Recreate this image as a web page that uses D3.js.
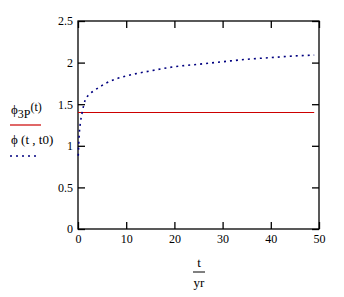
<!DOCTYPE html>
<html><head><meta charset="utf-8">
<script src="https://cdn.jsdelivr.net/npm/d3@7"></script>
<style>body{margin:0;background:#fff}svg{display:block}svg text{font-family:"Liberation Serif","Times New Roman","DejaVu Serif",serif !important}</style>
</head><body>
<script>
const xTicks = [0,10,20,30,40,50];
const yTicks = [0,0.5,1,1.5,2,2.5];
const yTickLabels = ["0","0.5","1","1.5","2","2.5"];
const tVals   = [0.05,0.27,0.5,0.83,1.5,2.2,3.25,4.3,5.7,7.7,10,15,20,25,30,35,40,45,49];
const phiVals = [0.88,1.15,1.28,1.39,1.55,1.61,1.66,1.70,1.75,1.80,1.84,1.90,1.95,1.98,2.01,2.04,2.06,2.08,2.09];
const phi3P = 1.4;
const tRange = [0,49];

const W=344,H=297;
const m={l:78,r:319,t:21,b:229};
const FF='"Liberation Serif","Times New Roman","DejaVu Serif",serif';
const svg=d3.select("body").append("svg").attr("width",W).attr("height",H).attr("font-family",FF);
const x=d3.scaleLinear().domain([0,50]).range([m.l,m.r]);
const y=d3.scaleLinear().domain([0,2.5]).range([m.b,m.t]);

svg.append("rect").attr("x",m.l).attr("y",m.t).attr("width",m.r-m.l).attr("height",m.b-m.t)
  .attr("fill","none").attr("stroke","#000").attr("stroke-width",1.3);

const tl=7;
const ax=[
  [d3.axisBottom(x).tickValues(xTicks).tickSize(-tl).tickFormat(d3.format("d")), `translate(0,${m.b})`, true],
  [d3.axisTop(x).tickValues(xTicks).tickSize(-tl).tickFormat(""), `translate(0,${m.t})`, false],
  [d3.axisLeft(y).tickValues(yTicks).tickSize(-tl).tickFormat((d,i)=>yTickLabels[i]), `translate(${m.l},0)`, true],
  [d3.axisRight(y).tickValues(yTicks).tickSize(-tl).tickFormat(""), `translate(${m.r},0)`, false]
];
ax.forEach(([a,tr,lab])=>{
  const g=svg.append("g").attr("transform",tr).call(a.tickPadding(lab?5:0));
  g.attr("font-family",FF).attr("font-size",12);
  g.select(".domain").remove();
  g.selectAll("line").attr("stroke","#000").attr("stroke-width",1.3);
  g.selectAll("text").attr("fill","#000");
});

svg.append("line").attr("x1",x(tRange[0])).attr("x2",x(tRange[1])).attr("y1",y(phi3P)).attr("y2",y(phi3P))
  .attr("stroke","#cc0000").attr("stroke-width",1.2);

const data=tVals.map((t,i)=>[t,phiVals[i]]);
svg.append("path").datum(data)
  .attr("d",d3.line().x(d=>x(d[0])).y(d=>y(d[1])).curve(d3.curveMonotoneX))
  .attr("fill","none").attr("stroke","#000080").attr("stroke-width",1.6).attr("stroke-dasharray","2,4");

const l1=svg.append("text").attr("x",11).attr("y",114).attr("font-size",13).attr("fill","#000");
l1.append("tspan").text("ϕ");
l1.append("tspan").attr("dy",4).attr("font-size",12).text("3P");
l1.append("tspan").attr("dy",-7).attr("font-size",12).text("(t)");
svg.append("line").attr("x1",10).attr("x2",41).attr("y1",125).attr("y2",125).attr("stroke","#cc0000").attr("stroke-width",1.2);
svg.append("text").attr("x",11).attr("y",144).attr("font-size",13).attr("fill","#000").text("ϕ (t , t0)");
svg.append("line").attr("x1",10).attr("x2",36).attr("y1",156).attr("y2",156).attr("stroke","#000080").attr("stroke-width",1.6).attr("stroke-dasharray","2,4");

const cx=199;
svg.append("text").attr("x",cx).attr("y",267).attr("text-anchor","middle").attr("font-size",13).text("t");
svg.append("line").attr("x1",cx-6).attr("x2",cx+6).attr("y1",272).attr("y2",272).attr("stroke","#000").attr("stroke-width",1);
svg.append("text").attr("x",cx).attr("y",287).attr("text-anchor","middle").attr("font-size",13).text("yr");
</script>
</body></html>
